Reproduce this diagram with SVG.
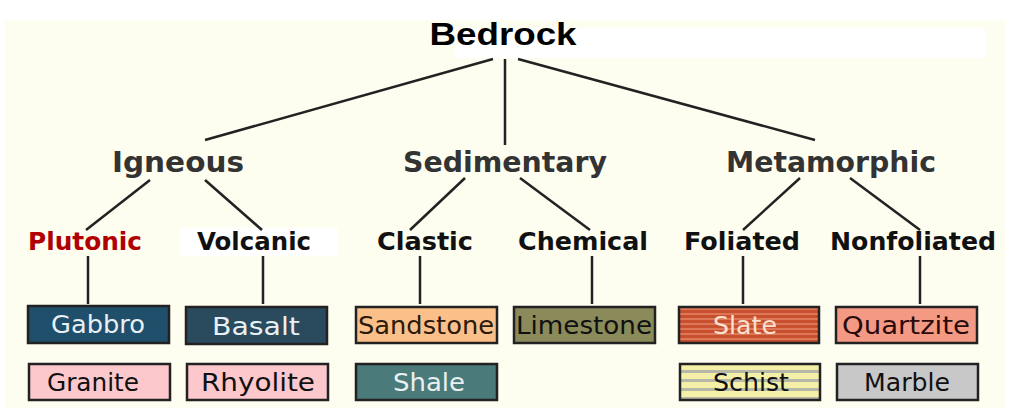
<svg xmlns="http://www.w3.org/2000/svg" width="1023" height="420" viewBox="0 0 1023 420">
<style>
.b{stroke:#222;stroke-width:2.5}
.t{font-family:"DejaVu Sans",sans-serif;font-size:25px;text-anchor:middle}
.h1{font-family:"DejaVu Sans",sans-serif;font-weight:bold;font-size:28px;fill:#333;text-anchor:middle}
.h2{font-family:"DejaVu Sans",sans-serif;font-weight:bold;font-size:25px;fill:#111;text-anchor:middle}
.c line{stroke:#222;stroke-width:2.5}
</style>
<defs>
<pattern id="slate" width="10" height="5" patternUnits="userSpaceOnUse"><rect width="10" height="5" fill="#c8502e"/><line x1="0" y1="4" x2="10" y2="4" stroke="#f0a080" stroke-width="1"/></pattern>
<pattern id="schist" width="10" height="9" patternUnits="userSpaceOnUse" y="365"><rect width="10" height="9" fill="#f4f0a8"/><rect y="5" width="10" height="3" fill="#b8b8a8"/></pattern>
</defs>
<rect width="1023" height="420" fill="#fff"/>
<rect x="5" y="20" width="1000" height="388" fill="#fdfdf0"/>
<rect x="455" y="28" width="530" height="30" fill="#fff"/>
<rect x="180" y="228" width="158" height="28" fill="#fff"/>
<g class="c" id="connectors">
<line x1="493" y1="59" x2="205" y2="140"/><line x1="505" y1="59" x2="505" y2="145"/><line x1="518" y1="59" x2="815" y2="140"/>
<line x1="150" y1="180" x2="86" y2="230"/><line x1="205" y1="180" x2="262" y2="230"/>
<line x1="465" y1="178" x2="410" y2="230"/><line x1="520" y1="178" x2="590" y2="230"/>
<line x1="800" y1="178" x2="743" y2="230"/><line x1="850" y1="178" x2="920" y2="230"/>
<line x1="88" y1="256" x2="88" y2="304"/><line x1="263" y1="256" x2="263" y2="304"/><line x1="420" y1="256" x2="420" y2="304"/>
<line x1="592" y1="256" x2="592" y2="304"/><line x1="743" y1="256" x2="743" y2="304"/><line x1="920" y1="256" x2="920" y2="304"/>
</g>
<g id="bedrock"><text x="503" y="45" font-family="'Liberation Sans',sans-serif" font-weight="900" font-size="32" text-anchor="middle" fill="#000" textLength="147" lengthAdjust="spacingAndGlyphs">Bedrock</text></g>
<g id="igneous"><text class="h1" x="178" y="172" textLength="132" lengthAdjust="spacingAndGlyphs">Igneous</text></g>
<g id="sedimentary"><text class="h1" x="505" y="172" textLength="204" lengthAdjust="spacingAndGlyphs">Sedimentary</text></g>
<g id="metamorphic"><text class="h1" x="831" y="172" textLength="210" lengthAdjust="spacingAndGlyphs">Metamorphic</text></g>
<g id="plutonic"><text class="h2" x="85" y="250" style="fill:#b00000" textLength="114" lengthAdjust="spacingAndGlyphs">Plutonic</text></g>
<g id="volcanic"><text class="h2" x="254" y="250" textLength="114" lengthAdjust="spacingAndGlyphs">Volcanic</text></g>
<g id="clastic"><text class="h2" x="425" y="250" textLength="96" lengthAdjust="spacingAndGlyphs">Clastic</text></g>
<g id="chemical"><text class="h2" x="583" y="250" textLength="130" lengthAdjust="spacingAndGlyphs">Chemical</text></g>
<g id="foliated"><text class="h2" x="742" y="250" textLength="116" lengthAdjust="spacingAndGlyphs">Foliated</text></g>
<g id="nonfoliated"><text class="h2" x="913" y="250" textLength="166" lengthAdjust="spacingAndGlyphs">Nonfoliated</text></g>
<g id="gabbro"><rect class="b" x="28" y="306" width="141" height="37" fill="#1f4f6a"/><text class="t" x="98" y="333" fill="#e8f0f4" textLength="94" lengthAdjust="spacingAndGlyphs">Gabbro</text></g>
<g id="basalt"><rect class="b" x="186" y="307" width="141" height="37" fill="#2a4a5e"/><text class="t" x="256" y="335" fill="#e8f0f4" font-size="27" textLength="88" lengthAdjust="spacingAndGlyphs">Basalt</text></g>
<g id="sandstone"><rect class="b" x="356" y="307" width="141" height="36" fill="#fbc08a"/><text class="t" x="426" y="334" fill="#2a1a0a" textLength="136" lengthAdjust="spacingAndGlyphs">Sandstone</text></g>
<g id="limestone"><rect class="b" x="514" y="307" width="141" height="36" fill="#8a8a5a"/><text class="t" x="584" y="334" fill="#111" textLength="136" lengthAdjust="spacingAndGlyphs">Limestone</text></g>
<g id="slate"><rect class="b" x="679" y="307" width="140" height="36" fill="url(#slate)"/><text class="t" x="745" y="334" fill="#fbe0d0" textLength="64" lengthAdjust="spacingAndGlyphs">Slate</text></g>
<g id="quartzite"><rect class="b" x="836" y="307" width="141" height="36" fill="#f49a84"/><text class="t" x="906" y="334" fill="#2a0a0a" textLength="128" lengthAdjust="spacingAndGlyphs">Quartzite</text></g>
<g id="granite"><rect class="b" x="29" y="364" width="141" height="36" fill="#fcc8cc"/><text class="t" x="93" y="391" fill="#111" textLength="92" lengthAdjust="spacingAndGlyphs">Granite</text></g>
<g id="rhyolite"><rect class="b" x="187" y="364" width="141" height="36" fill="#fcc8cc"/><text class="t" x="258" y="391" fill="#111" font-size="27" textLength="114" lengthAdjust="spacingAndGlyphs">Rhyolite</text></g>
<g id="shale"><rect class="b" x="356" y="364" width="141" height="36" fill="#4a7a7a"/><text class="t" x="429" y="391" fill="#e8f0f0" textLength="72" lengthAdjust="spacingAndGlyphs">Shale</text></g>
<g id="schist"><rect class="b" x="680" y="364" width="140" height="36" fill="url(#schist)"/><text class="t" x="751" y="391" fill="#111" textLength="76" lengthAdjust="spacingAndGlyphs">Schist</text></g>
<g id="marble"><rect class="b" x="837" y="364" width="141" height="36" fill="#c8c8c8"/><text class="t" x="907" y="391" fill="#111" textLength="86" lengthAdjust="spacingAndGlyphs">Marble</text></g>
</svg>
